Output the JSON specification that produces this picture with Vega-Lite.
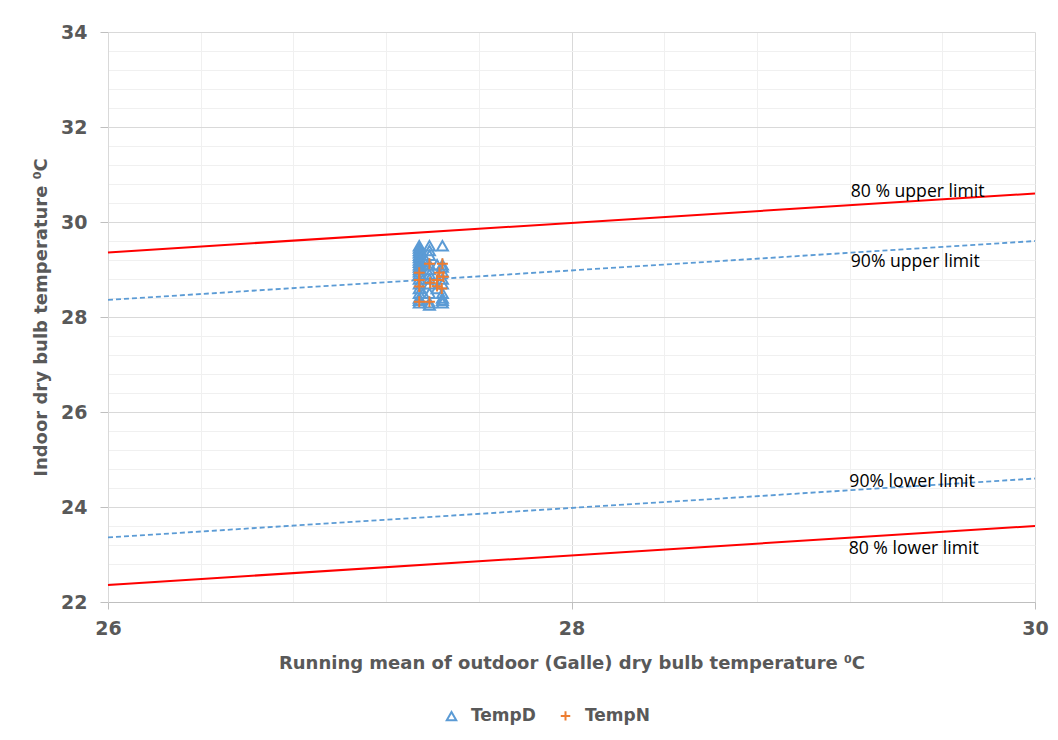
{
  "$schema": "https://vega.github.io/schema/vega-lite/v6.json",
  "width": 927,
  "height": 570,
  "autosize": "none",
  "padding": {"left": 108, "top": 32, "right": 23, "bottom": 138},
  "background": "white",
  "config": {
    "view": {"stroke": null},
    "axis": {
      "labelFont": "DejaVu Sans",
      "labelFontWeight": "bold",
      "labelFontSize": 19,
      "labelColor": "#595959",
      "labelFlush": false,
      "titleFont": "DejaVu Sans",
      "titleFontWeight": "bold",
      "titleFontSize": 18,
      "titleColor": "#595959",
      "domainColor": "#bfbfbf",
      "tickColor": "#bfbfbf",
      "gridColor": "#d9d9d9"
    },
    "legend": {
      "orient": "none",
      "legendX": 335,
      "legendY": 675,
      "direction": "horizontal",
      "padding": 0,
      "labelFont": "DejaVu Sans",
      "labelFontWeight": "bold",
      "labelFontSize": 17,
      "labelColor": "#595959",
      "symbolSize": 90,
      "symbolStrokeWidth": 2,
      "labelOffset": 11,
      "columnPadding": 20
    }
  },
  "layer": [
    {
      "data": {"values": [
        {"limit": "80% upper", "x": 26, "y": 29.36},
        {"limit": "80% upper", "x": 30, "y": 30.6},
        {"limit": "80% lower", "x": 26, "y": 22.36},
        {"limit": "80% lower", "x": 30, "y": 23.6}
      ]},
      "mark": {"type": "line", "color": "#ff0000", "strokeWidth": 2},
      "encoding": {
        "x": {"field": "x", "type": "quantitative",
          "scale": {"domain": [26, 30], "nice": false, "zero": false},
          "axis": {"orient": "bottom", "values": [26, 28, 30], "format": "d", "tickSize": 7, "labelPadding": 10,
            "title": "Running mean of outdoor (Galle) dry bulb temperature ⁰C", "titlePadding": 16, "zindex": 0}},
        "y": {"field": "y", "type": "quantitative",
          "scale": {"domain": [22, 34], "nice": false, "zero": false},
          "axis": {"orient": "left", "values": [22, 24, 26, 28, 30, 32, 34], "format": "d", "tickSize": 8, "labelPadding": 13,
            "title": "Indoor dry bulb temperature ⁰C", "titlePadding": 10, "domainColor": "#d9d9d9", "zindex": 0}},
        "detail": {"field": "limit"}
      }
    },
    {
      "data": {"values": [
        {"limit": "90% upper", "x": 26, "y": 28.36},
        {"limit": "90% upper", "x": 30, "y": 29.6},
        {"limit": "90% lower", "x": 26, "y": 23.36},
        {"limit": "90% lower", "x": 30, "y": 24.6}
      ]},
      "mark": {"type": "line", "color": "#5b9bd5", "strokeWidth": 1.8, "strokeDash": [5, 3]},
      "encoding": {
        "x": {"field": "x", "type": "quantitative",
          "axis": {"orient": "bottom", "values": [26.4, 26.8, 27.2, 27.6, 28.4, 28.8, 29.2, 29.6],
            "grid": true, "gridColor": "#f0f0f0", "labels": false, "ticks": false, "domain": false, "title": null}},
        "y": {"field": "y", "type": "quantitative",
          "axis": {"orient": "left", "values": [22.4, 22.8, 23.2, 23.6, 24.4, 24.8, 25.2, 25.6, 26.4, 26.8, 27.2, 27.6, 28.4, 28.8, 29.2, 29.6, 30.4, 30.8, 31.2, 31.6, 32.4, 32.8, 33.2, 33.6],
            "grid": true, "gridColor": "#f0f0f0", "labels": false, "ticks": false, "domain": false, "title": null}},
        "detail": {"field": "limit"}
      }
    },
    {
      "data": {"values": [
        {"series": "TempD", "x": 27.343, "y": 29.5},
        {"series": "TempD", "x": 27.343, "y": 29.45},
        {"series": "TempD", "x": 27.343, "y": 29.4},
        {"series": "TempD", "x": 27.343, "y": 29.35},
        {"series": "TempD", "x": 27.343, "y": 29.3},
        {"series": "TempD", "x": 27.343, "y": 29.25},
        {"series": "TempD", "x": 27.343, "y": 29.2},
        {"series": "TempD", "x": 27.343, "y": 29.15},
        {"series": "TempD", "x": 27.343, "y": 29.1},
        {"series": "TempD", "x": 27.343, "y": 29.05},
        {"series": "TempD", "x": 27.343, "y": 29.0},
        {"series": "TempD", "x": 27.343, "y": 28.95},
        {"series": "TempD", "x": 27.343, "y": 28.9},
        {"series": "TempD", "x": 27.343, "y": 28.8},
        {"series": "TempD", "x": 27.343, "y": 28.7},
        {"series": "TempD", "x": 27.343, "y": 28.6},
        {"series": "TempD", "x": 27.343, "y": 28.5},
        {"series": "TempD", "x": 27.343, "y": 28.4},
        {"series": "TempD", "x": 27.343, "y": 28.35},
        {"series": "TempD", "x": 27.343, "y": 28.3},
        {"series": "TempD", "x": 27.36, "y": 29.3},
        {"series": "TempD", "x": 27.36, "y": 29.2},
        {"series": "TempD", "x": 27.36, "y": 29.1},
        {"series": "TempD", "x": 27.36, "y": 28.5},
        {"series": "TempD", "x": 27.387, "y": 29.5},
        {"series": "TempD", "x": 27.387, "y": 29.4},
        {"series": "TempD", "x": 27.387, "y": 29.3},
        {"series": "TempD", "x": 27.387, "y": 29.1},
        {"series": "TempD", "x": 27.387, "y": 29.0},
        {"series": "TempD", "x": 27.387, "y": 28.9},
        {"series": "TempD", "x": 27.387, "y": 28.8},
        {"series": "TempD", "x": 27.387, "y": 28.7},
        {"series": "TempD", "x": 27.387, "y": 28.5},
        {"series": "TempD", "x": 27.387, "y": 28.3},
        {"series": "TempD", "x": 27.387, "y": 28.25},
        {"series": "TempD", "x": 27.42, "y": 29.1},
        {"series": "TempD", "x": 27.42, "y": 28.6},
        {"series": "TempD", "x": 27.443, "y": 29.5},
        {"series": "TempD", "x": 27.443, "y": 29.1},
        {"series": "TempD", "x": 27.443, "y": 29.05},
        {"series": "TempD", "x": 27.443, "y": 28.95},
        {"series": "TempD", "x": 27.443, "y": 28.8},
        {"series": "TempD", "x": 27.443, "y": 28.7},
        {"series": "TempD", "x": 27.443, "y": 28.5},
        {"series": "TempD", "x": 27.443, "y": 28.4},
        {"series": "TempD", "x": 27.443, "y": 28.35},
        {"series": "TempD", "x": 27.443, "y": 28.3},
        {"series": "TempN", "x": 27.387, "y": 29.12},
        {"series": "TempN", "x": 27.443, "y": 29.12},
        {"series": "TempN", "x": 27.343, "y": 28.93},
        {"series": "TempN", "x": 27.43, "y": 28.93},
        {"series": "TempN", "x": 27.343, "y": 28.78},
        {"series": "TempN", "x": 27.39, "y": 28.72},
        {"series": "TempN", "x": 27.42, "y": 28.78},
        {"series": "TempN", "x": 27.447, "y": 28.85},
        {"series": "TempN", "x": 27.42, "y": 28.65},
        {"series": "TempN", "x": 27.343, "y": 28.64},
        {"series": "TempN", "x": 27.44, "y": 28.6},
        {"series": "TempN", "x": 27.343, "y": 28.32},
        {"series": "TempN", "x": 27.387, "y": 28.32}
      ]},
      "mark": {"type": "point", "filled": false, "strokeWidth": 2, "size": 120, "opacity": 1},
      "encoding": {
        "x": {"field": "x", "type": "quantitative", "axis": null},
        "y": {"field": "y", "type": "quantitative", "axis": null},
        "color": {"field": "series", "type": "nominal",
          "scale": {"domain": ["TempD", "TempN"], "range": ["#5b9bd5", "#ed7d31"]},
          "legend": {"title": null}},
        "shape": {"field": "series", "type": "nominal",
          "scale": {"domain": ["TempD", "TempN"], "range": ["triangle-up", "M-1,0H1M0,-1V1"]},
          "legend": {"title": null}}
      }
    },
    {
      "data": {"values": [
        {"x": 29.205, "y": 30.526, "label": "80 % upper limit"},
        {"x": 29.205, "y": 29.06, "label": "90% upper limit"},
        {"x": 29.199, "y": 24.43, "label": "90% lower limit"},
        {"x": 29.196, "y": 23.01, "label": "80 % lower limit"}
      ]},
      "mark": {"type": "text", "align": "left", "baseline": "alphabetic", "font": "Open Sans", "fontSize": 17.6, "color": "#000000"},
      "encoding": {
        "x": {"field": "x", "type": "quantitative", "axis": null},
        "y": {"field": "y", "type": "quantitative", "axis": null},
        "text": {"field": "label"}
      }
    }
  ],
  "resolve": {"axis": {"x": "independent", "y": "independent"}}
}
